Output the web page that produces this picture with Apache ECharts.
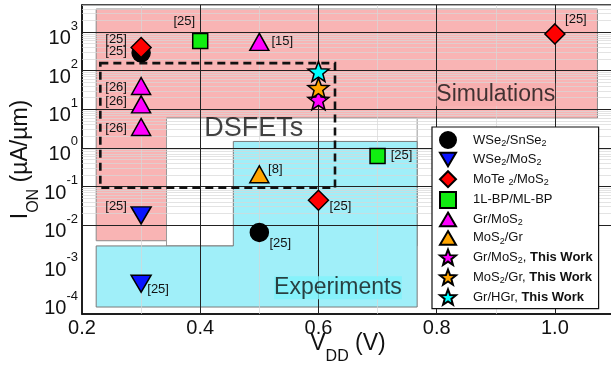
<!DOCTYPE html>
<html><head><meta charset="utf-8">
<script src="https://cdn.jsdelivr.net/npm/echarts@6/dist/echarts.min.js"></script>
<style>html,body{margin:0;padding:0;background:#fff}#c{width:611px;height:365px}</style>
</head><body><div id="c"></div>
<script>
// ---------- data ----------
const xTicks = [0.2, 0.4, 0.6, 0.8, 1.0];
const xMajorGrid = [0.4, 0.6, 0.8, 1.0];
const xMinorGrid = [0.3, 0.5, 0.7, 0.9];
const yTicks = [1e-4, 1e-3, 1e-2, 1e-1, 1, 10, 100, 1000];

const seriesNames = ['WSe2/SnSe2', 'WSe2/MoS2', 'MoTe2/MoS2', '1L-BP/ML-BP', 'Gr/MoS2', 'MoS2/Gr',
  'Gr/MoS2, This Work', 'MoS2/Gr, This Work', 'Gr/HGr, This Work'];
const legendLabels = [
  '{g|}{n|WSe}{s|2}{n|/SnSe}{s|2}',
  '{g|}{n|WSe}{s|2}{n|/MoS}{s|2}',
  '{g|}{n|MoTe }{s|2}{n|/MoS}{s|2}',
  '{g|}{n|1L-BP/ML-BP}',
  '{g|}{n|Gr/MoS}{s|2}',
  '{g|}{n|MoS}{s|2}{n|/Gr}',
  '{g|}{n|Gr/MoS}{s|2}{n|, }{b|This Work}',
  '{g|}{n|MoS}{s|2}{n|/Gr, }{b|This Work}',
  '{g|}{n|Gr/HGr, }{b|This Work}'
];

// V_DD (V), I_ON (uA/um)
const wse2Snse2 = [[0.3, 290], [0.5, 0.0065]];
const wse2Snse2Refs = ['[25]', '[25]'];
const wse2Mos2 = [[0.3, 0.0179], [0.3, 3.05e-4]];
const wse2Mos2Refs = ['[25]', '[25]'];
const mote2Mos2 = [[0.3, 398], [1.0, 894], [0.6, 0.0443]];
const mote2Mos2Refs = ['[25]', '[25]', '[25]'];
const bp = [[0.4, 589], [0.7, 0.616]];
const bpRefs = ['[25]', '[25]'];
const grMos2 = [[0.5, 555], [0.3, 40], [0.3, 13.4], [0.3, 3.47]];
const grMos2Refs = ['[15]', '[26]', '[26]', '[26]'];
const mos2Gr = [[0.5, 0.208]];
const mos2GrRefs = ['[8]'];
const grMos2This = [[0.6, 17.7]];
const mos2GrThis = [[0.6, 35.5]];
const grHgrThis = [[0.6, 95.5]];

// region outlines (V_DD, I_ON)
const simRegion = [[0.224, 3945], [1.072, 3945], [1.072, 5.9], [0.343, 5.9], [0.343, 0.00395], [0.224, 0.00395]];
const whiteRegion = [[0.343, 5.9], [0.767, 5.9], [0.767, 0.0029], [0.343, 0.0029]];
const expRegion = [[0.456, 1.47], [0.767, 1.47], [0.767, 7.6e-5], [0.224, 7.6e-5], [0.224, 0.0029], [0.456, 0.0029]];
const dsfetBox = [[0.231, 157], [0.628, 157], [0.628, 0.093], [0.231, 0.093]];
const regionTexts = ['Simulations', 'DSFETs', 'Experiments'];
const regionTextPos = [[0.900, 23.8], [0.4906, 3.14], [0.633, 2.4e-4]];

// ---------- styles ----------
const FONT = '"Liberation Sans", Arial, Helvetica, sans-serif';
const Y_MIN = Math.pow(10, -4.3), Y_MAX = Math.pow(10, 3.7);
const STAR = 'path://M50,0 L62.34,33.01 L97.55,34.55 L69.97,56.49 L79.39,90.45 L50,71 L20.61,90.45 L30.03,56.49 L2.45,34.55 L37.66,33.01 Z';
const TRI_UP = 'path://M10,0 L20,17 L0,17 Z';
const TRI_DOWN = 'path://M0,0 L20,0 L10,17 Z';

const refOffsets = {
  'WSe2/SnSe2': [[-25, -1], [21, 11]],
  'WSe2/MoS2': [[-25, -9], [17, 6]],
  'MoTe2/MoS2': [[-25, -8], [21, -14], [22, 6]],
  '1L-BP/ML-BP': [[-16, -19], [24, -1]],
  'Gr/MoS2': [[23, 0], [-25, 1], [-25, -3], [-25, 1]],
  'MoS2/Gr': [[16, -5]]
};

const minorY = [];
for (let e = -5; e <= 3; e++) for (let k = 2; k <= 9; k++) {
  const v = k * Math.pow(10, e);
  if (v > Y_MIN && v < Y_MAX) minorY.push(v);
}

function markerSeries(name, data, refs, symbol, size, color) {
  const offs = refOffsets[name] || [];
  return {
    name, type: 'scatter', z: 6, symbol, symbolSize: size,
    itemStyle: { color, borderColor: '#000', borderWidth: 1.5, opacity: 1 },
    data: data.map((d, i) => ({
      value: d,
      label: refs ? { show: true, offset: offs[i] || [0, 0] } : { show: false }
    })),
    label: {
      position: 'inside', fontFamily: FONT, fontSize: 13, color: '#111',
      formatter: p => refs ? refs[p.dataIndex] : ''
    },
    emphasis: { disabled: true }, animation: false
  };
}

function polyRender(polys, styles) {
  return function (params, api) {
    const pts = polys[params.dataIndex].map(p => api.coord(p));
    return { type: 'polygon', shape: { points: pts }, style: styles[params.dataIndex] };
  };
}

const titleRich = {
  m: { fontSize: 23, lineHeight: 33, verticalAlign: 'top', fontFamily: FONT, color: '#111' },
  s: { fontSize: 16, lineHeight: 33, verticalAlign: 'bottom', fontFamily: FONT, color: '#111' }
};

const chart = echarts.init(document.getElementById('c'));
const option = {
  animation: false,
  grid: { left: 82, top: 5, right: -3, bottom: 51, outerBoundsMode: 'none', containLabel: false,
    show: true, borderColor: '#111', borderWidth: 1.5, backgroundColor: '#fff' },
  xAxis: {
    type: 'value', min: 0.2, max: 1.1, interval: 0.2,
    name: '{m|V}{s|DD}{m| (V)}', nameLocation: 'middle', nameGap: 18, nameMoveOverlap: false,
    nameTextStyle: { fontFamily: FONT, color: '#111', rich: titleRich },
    axisLine: { lineStyle: { color: '#111', width: 1.5 } },
    axisTick: { show: false },
    splitLine: { show: false },
    axisLabel: { fontFamily: FONT, fontSize: 20, color: '#111', margin: 4, lineHeight: 20,
      formatter: v => (Math.abs(v * 5 - Math.round(v * 5)) < 1e-6 && v < 1.05) ? v.toFixed(1) : '' }
  },
  yAxis: {
    type: 'log', logBase: 10, min: Y_MIN, max: Y_MAX,
    name: '{m|I}{s|ON}{m| (µA/µm)}', nameLocation: 'middle', nameGap: 40, nameMoveOverlap: false,
    nameTextStyle: { fontFamily: FONT, color: '#111', rich: titleRich },
    axisLine: { lineStyle: { color: '#111', width: 1.5 } },
    axisTick: { show: false },
    splitLine: { show: false },
    axisLabel: {
      customValues: yTicks, margin: 4, fontFamily: FONT, color: '#111',
      padding: [4, 0, 0, 0],
      formatter: v => '{b|10}{u|' + Math.round(Math.log10(v)) + '}',
      rich: {
        b: { fontSize: 20, lineHeight: 29, verticalAlign: 'bottom', fontFamily: FONT, color: '#111' },
        u: { fontSize: 13, lineHeight: 29, verticalAlign: 'top', fontFamily: FONT, color: '#111' }
      }
    }
  },
  legend: {
    orient: 'vertical', left: 432, top: 127, z: 10,
    padding: [4, 6, 3, 7], itemWidth: 16, itemHeight: 16, itemGap: 2.7,
    backgroundColor: '#fff', borderColor: '#111', borderWidth: 1.2,
    data: seriesNames,
    formatter: name => legendLabels[seriesNames.indexOf(name)],
    textStyle: { fontFamily: FONT, fontSize: 13, color: '#111', rich: {
      g: { width: 12 },
      n: { fontSize: 13, lineHeight: 16, fontFamily: FONT, color: '#111' },
      b: { fontSize: 13, lineHeight: 16, fontWeight: 'bold', fontFamily: FONT, color: '#111' },
      s: { fontSize: 9, lineHeight: 6, verticalAlign: 'bottom', fontFamily: FONT, color: '#111' }
    } }
  },
  series: [
    {
      name: 'regions', type: 'custom', z: 1, silent: true,
      data: [simRegion[0], whiteRegion[0], expRegion[0]],
      renderItem: polyRender([simRegion, whiteRegion, expRegion], [
        { fill: '#f9b4b4', stroke: '#8a8a8a', lineWidth: 1 },
        { fill: '#ffffff', stroke: '#9a9a9a', lineWidth: 1 },
        { fill: '#a0eff9', stroke: '#7a7a7a', lineWidth: 1 }
      ])
    },
    {
      name: 'minorGrid', type: 'line', z: 2, data: [], silent: true,
      markLine: {
        z: 2, silent: true, symbol: 'none', animation: false, label: { show: false },
        lineStyle: { color: 'rgba(215,215,215,0.7)', width: 1, type: 'solid' },
        data: minorY.map(v => ({ yAxis: v })).concat(xMinorGrid.map(v => ({ xAxis: v })))
      }
    },
    {
      name: 'majorGrid', type: 'line', z: 3, data: [], silent: true,
      markLine: {
        z: 3, silent: true, symbol: 'none', animation: false, label: { show: false },
        lineStyle: { color: '#222', width: 1, type: 'solid' },
        data: yTicks.map(v => ({ yAxis: v })).concat(xMajorGrid.map(v => ({ xAxis: v })))
      }
    },
    {
      name: 'dsfetBox', type: 'custom', z: 4, silent: true,
      data: [dsfetBox[0]],
      renderItem: polyRender([dsfetBox], [
        { fill: 'none', stroke: '#111', lineWidth: 2.6, lineDash: [8, 5] }
      ])
    },
    {
      name: 'regionText', type: 'scatter', z: 4, silent: true, symbolSize: 1,
      itemStyle: { color: 'rgba(0,0,0,0)' },
      data: regionTextPos.map((p, i) => ({
        value: p,
        label: i === 2 ? { backgroundColor: '#80f2fb' } : (i === 0 ? { backgroundColor: '#f7adad' } : { fontSize: 27 })
      })),
      label: { show: true, position: 'inside', fontFamily: FONT, fontSize: 23, color: '#111',
        formatter: p => regionTexts[p.dataIndex] }
    },
    markerSeries('WSe2/SnSe2', wse2Snse2, wse2Snse2Refs, 'circle', 18, '#000000'),
    markerSeries('WSe2/MoS2', wse2Mos2, wse2Mos2Refs, TRI_DOWN, [20, 17], '#0a14ff'),
    markerSeries('MoTe2/MoS2', mote2Mos2, mote2Mos2Refs, 'diamond', [20, 20], '#ff0000'),
    markerSeries('1L-BP/ML-BP', bp, bpRefs, 'rect', [15, 15], '#11ee11'),
    markerSeries('Gr/MoS2', grMos2, grMos2Refs, TRI_UP, [19, 17], '#ff00ff'),
    markerSeries('MoS2/Gr', mos2Gr, mos2GrRefs, TRI_UP, [19, 17], '#ffa500'),
    markerSeries('Gr/MoS2, This Work', grMos2This, null, STAR, [21, 20], '#ff00ff'),
    markerSeries('MoS2/Gr, This Work', mos2GrThis, null, STAR, [21, 20], '#ffa500'),
    markerSeries('Gr/HGr, This Work', grHgrThis, null, STAR, [21, 20], '#00ffff')
  ]
};
chart.setOption(option);
</script>
</body></html>
